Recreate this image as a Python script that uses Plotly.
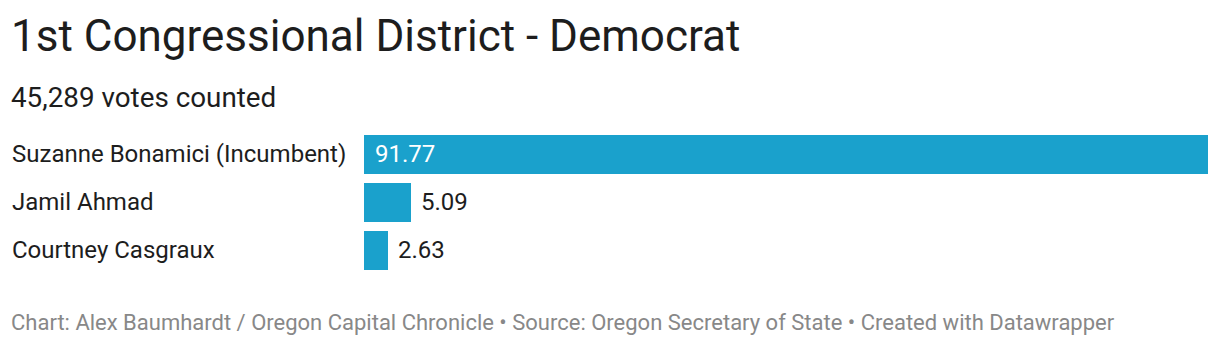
import plotly.graph_objects as go

candidates = ["Suzanne Bonamici (Incumbent)", "Jamil Ahmad", "Courtney Casgraux"]
values = [91.77, 5.09, 2.63]
value_labels = ["91.77", "5.09", "2.63"]
title = "1st Congressional District - Democrat"
subtitle = "45,289 votes counted"
footer = "Chart: Alex Baumhardt / Oregon Capital Chronicle • Source: Oregon Secretary of State • Created with Datawrapper"

W, H = 1220, 346
FONT = "Roboto"
BAR = "#1aa1cc"

def px_x(p):
    return p / W

def px_y(p):
    return 1 - p / H

fig = go.Figure()
fig.add_trace(go.Bar(
    x=values, y=candidates, orientation="h",
    marker=dict(color=BAR, line=dict(width=0)),
    width=0.8125, hoverinfo="skip",
))

annotations = []
for c, v, lab in zip(candidates, values, value_labels):
    annotations.append(dict(x=px_x(10), xref="paper", y=c, yref="y", text=c,
                            xanchor="left", yanchor="middle", showarrow=False,
                            font=dict(family=FONT, size=24, color="#1d1d1d")))
    if v > 20:
        annotations.append(dict(x=0, xref="x", y=c, yref="y", text=lab, xshift=9,
                                xanchor="left", yanchor="middle", showarrow=False,
                                font=dict(family=FONT, size=24, color="#ffffff")))
    else:
        annotations.append(dict(x=v, xref="x", y=c, yref="y", text=lab, xshift=8,
                                xanchor="left", yanchor="middle", showarrow=False,
                                font=dict(family=FONT, size=24, color="#1d1d1d")))

annotations.append(dict(x=px_x(9), xref="paper", y=px_y(36), yref="paper", text=title,
                        xanchor="left", yanchor="middle", showarrow=False,
                        font=dict(family=FONT, size=44, color="#1d1d1d")))
annotations.append(dict(x=px_x(9), xref="paper", y=px_y(97), yref="paper", text=subtitle,
                        xanchor="left", yanchor="middle", showarrow=False,
                        font=dict(family=FONT, size=27.8, color="#1d1d1d")))
annotations.append(dict(x=px_x(9), xref="paper", y=px_y(322), yref="paper", text=footer,
                        xanchor="left", yanchor="middle", showarrow=False,
                        font=dict(family=FONT, size=22, color="#888888")))

fig.update_layout(
    width=W, height=H, margin=dict(l=0, r=0, t=0, b=0),
    paper_bgcolor="white", plot_bgcolor="white", showlegend=False,
    xaxis=dict(domain=[px_x(364), px_x(1208)], range=[0, max(values)], visible=False, fixedrange=True),
    yaxis=dict(domain=[px_y(273.5), px_y(129.5)], range=[len(candidates) - 0.5, -0.5],
               visible=False, fixedrange=True, categoryorder="array", categoryarray=candidates),
    annotations=annotations,
    bargap=0,
)

fig.write_html("out.html", config={"displayModeBar": False})
